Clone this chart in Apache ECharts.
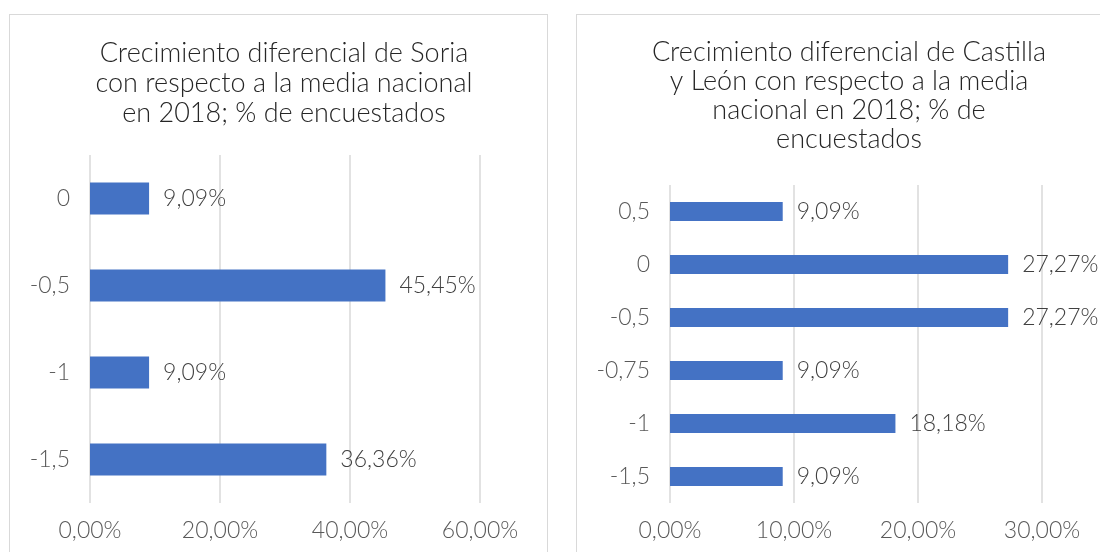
<!DOCTYPE html>
<html>
<head>
<meta charset="utf-8">
<script src="https://cdn.jsdelivr.net/npm/echarts@6/dist/echarts.min.js"></script>
<style>
  html, body { margin: 0; padding: 0; background: #fff; overflow: hidden; width: 1100px; height: 552px; }
  .panel { position: absolute; top: 14px; border: 1px solid #d9d9d9; background: #fff; }
  #soria { left: 9px; width: 537px; height: 560px; }
  #cyl { left: 576px; width: 540px; height: 560px; }
</style>
</head>
<body>
<div id="soria" class="panel"></div>
<div id="cyl" class="panel"></div>
<script>
// Soria
var soriaCats = ['0', '-0,5', '-1', '-1,5'];
var soriaValues = [9.09, 45.45, 9.09, 36.36];
var soriaTicks = [0, 20, 40, 60];

// Castilla y León
var cylCats = ['0,5', '0', '-0,5', '-0,75', '-1', '-1,5'];
var cylValues = [9.09, 27.27, 27.27, 9.09, 18.18, 9.09];
var cylTicks = [0, 10, 20, 30];

var FONT = 'Lato';

function pct(v){
    return v.toFixed(2).replace('.', ',') + '%';
}

function makeChart(el, title, titleLH, cats, values, ticks, grid, barWidth, titleLeft){
    var chart = echarts.init(document.getElementById(el), null, {renderer: 'canvas'});
    var step = ticks[1] - ticks[0];
    var option = {
        animation: false,
        title: {
            text: title,
            left: titleLeft,
            top: 18,
            textAlign: 'center',
            textStyle: {
                fontFamily: FONT,
                fontWeight: 300,
                fontSize: 27,
                lineHeight: titleLH,
                color: '#262626'
            }
        },
        grid: grid,
        xAxis: {
            type: 'value',
            min: ticks[0],
            max: ticks[ticks.length - 1],
            interval: step,
            axisLine: {show: false},
            axisTick: {show: false},
            splitLine: {lineStyle: {color: '#d9d9d9', width: 1.5}},
            axisLabel: {
                fontFamily: FONT,
                fontWeight: 300,
                fontSize: 23,
                color: '#595959',
                margin: 16,
                formatter: function(v){ return pct(v); }
            }
        },
        yAxis: {
            type: 'category',
            inverse: true,
            data: cats,
            axisLine: {show: false},
            axisTick: {show: false},
            axisLabel: {
                fontFamily: FONT,
                fontWeight: 300,
                fontSize: 23,
                color: '#595959',
                margin: 20
            }
        },
        series: [{
            type: 'bar',
            data: values,
            barWidth: barWidth,
            itemStyle: {color: '#4472C4'},
            label: {
                show: true,
                position: 'right',
                distance: 14,
                fontFamily: FONT,
                fontWeight: 300,
                fontSize: 23,
                color: '#404040',
                formatter: function(p){ return pct(p.value); }
            }
        }]
    };
    chart.setOption(option);
    return chart;
}

makeChart('soria',
    'Crecimiento diferencial de Soria\ncon respecto a la media nacional\nen 2018; % de encuestados',
    30, soriaCats, soriaValues, soriaTicks,
    {left: 80, width: 390, top: 140, height: 348}, 32, 269);

makeChart('cyl',
    'Crecimiento diferencial de Castilla\ny León con respecto a la media\nnacional en 2018; % de\nencuestados',
    29, cylCats, cylValues, cylTicks,
    {left: 93, width: 372, top: 170, height: 318}, 19, 267);
</script>
</body>
</html>
